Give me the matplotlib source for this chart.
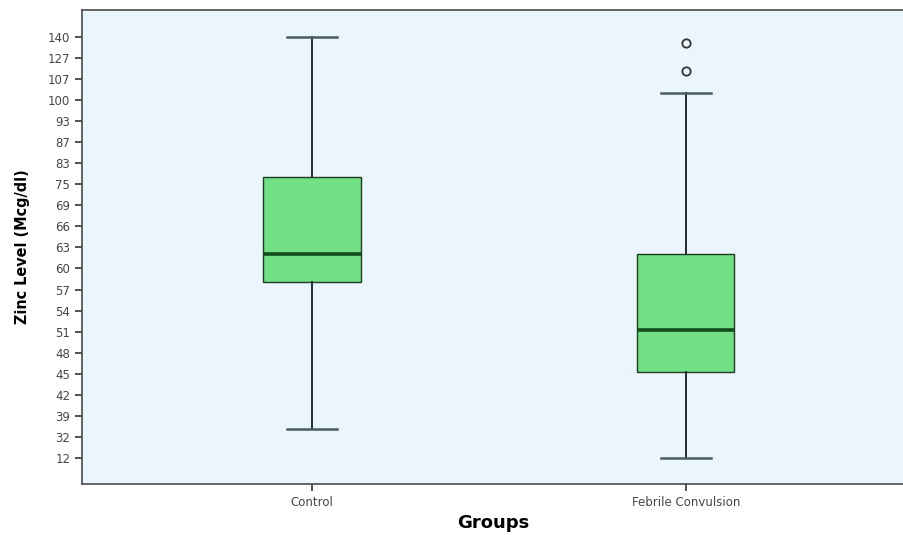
import numpy as np
import matplotlib.pyplot as plt

plt.rcParams['font.family'] = ['DejaVu Sans']

# ordinal y scale: each listed zinc value gets one equally spaced slot
tick_values = [12, 32, 39, 42, 45, 48, 51, 54, 57, 60, 63, 66, 69, 75, 83, 87, 93, 100, 107, 127, 140]

groups = ['Control', 'Febrile Convulsion']
whisker_low = [34.7, 12]
q1 = [58.1, 45.3]
median = [62.1, 51.2]
q3 = [77.8, 62.0]
whisker_high = [140, 102.4]
outliers = [[], [114.6, 136.2]]


def slot(v):
    return np.interp(v, tick_values, np.arange(len(tick_values)))


stats = []
for i, g in enumerate(groups):
    stats.append({
        'label': g,
        'whislo': slot(whisker_low[i]),
        'q1': slot(q1[i]),
        'med': slot(median[i]),
        'q3': slot(q3[i]),
        'whishi': slot(whisker_high[i]),
        'fliers': slot(np.array(outliers[i])),
    })

fig = plt.figure(figsize=(9.04, 5.35), dpi=100)
ax = fig.add_axes([0.0907, 0.0953, 0.909, 0.886])
ax.set_facecolor('#eaf5fd')

ax.bxp(stats, positions=[1, 2], widths=0.26, patch_artist=True,
       boxprops=dict(facecolor='#72e085', edgecolor='#1f3a22', linewidth=1.0),
       medianprops=dict(color='#124d1c', linewidth=2.6),
       whiskerprops=dict(color='#222a2a', linewidth=1.4),
       capprops=dict(color='#4c5c62', linewidth=1.8),
       capwidths=0.135,
       flierprops=dict(marker='o', markersize=6, markerfacecolor='none',
                       markeredgecolor='#333333', markeredgewidth=1.3))

ax.set_xlim(0.385, 2.583)
ax.set_ylim(-1.24, 21.28)
ax.set_yticks(np.arange(len(tick_values)))
ax.set_yticklabels([str(v) for v in tick_values])
ax.set_xticks([1, 2])
ax.set_xticklabels(groups)

ax.tick_params(axis='both', labelsize=8.5, labelcolor='#444444', color='#333333',
               length=5, width=1.2)
for s in ax.spines.values():
    s.set_color('#4a4a4a')
    s.set_linewidth(1.2)

ax.set_ylabel('Zinc Level (Mcg/dl)', fontsize=11.5, fontweight='bold',
              family=['Liberation Sans Narrow', 'DejaVu Sans'],
              fontstretch='condensed', labelpad=13)
ax.set_xlabel('Groups', fontsize=13, fontweight='bold', labelpad=4)

fig.savefig('out.png', dpi=100)
